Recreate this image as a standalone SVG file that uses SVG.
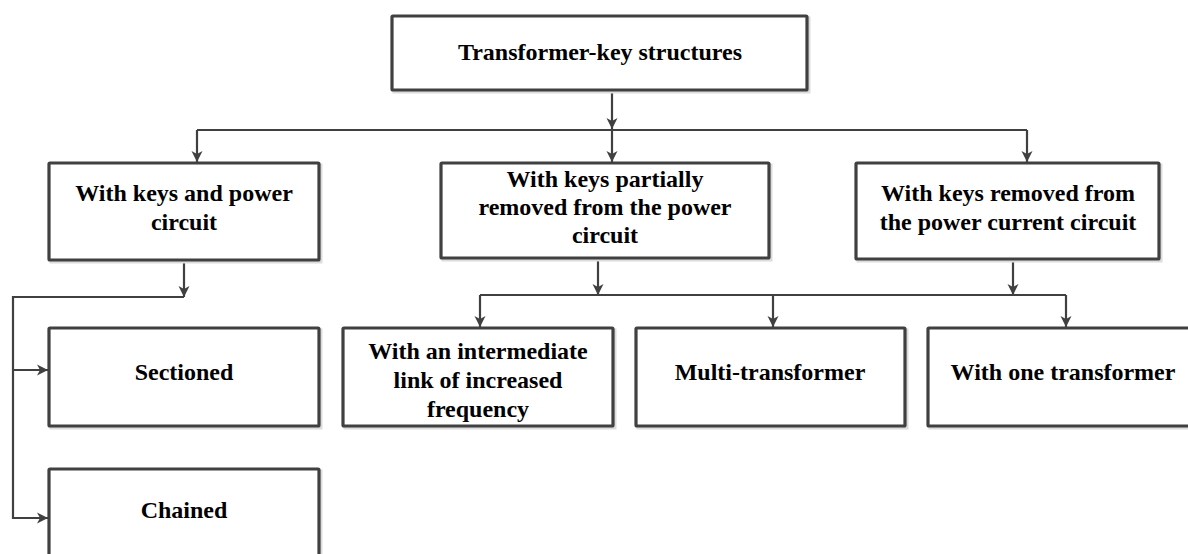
<svg xmlns="http://www.w3.org/2000/svg" width="1188" height="554" viewBox="0 0 1188 554">
<style>
.box{fill:#ffffff;stroke:#404040;stroke-width:3.2}
.sh{fill:none;stroke:#dcdcdc;stroke-width:3}
.t{font-family:"Liberation Serif","Times New Roman",serif;font-weight:bold;font-size:24px;fill:#000;text-anchor:middle}
.c{fill:none;stroke:#404040;stroke-width:2.2}
</style>
<defs>
<marker id="ah" markerUnits="userSpaceOnUse" markerWidth="12" markerHeight="12" viewBox="0 0 12 12" refX="11" refY="6" orient="auto">
<path d="M0,0.5 L11,6 L0,11.5 L3,6 z" fill="#404040"/>
</marker>
</defs>
<rect x="0" y="0" width="1188" height="554" fill="#ffffff"/>
<g id="connectors">
<path class="c" d="M612,91 V129" marker-end="url(#ah)"/>
<path class="c" d="M197,130 H1027"/>
<path class="c" d="M197,130 V162" marker-end="url(#ah)"/>
<path class="c" d="M612,130 V162" marker-end="url(#ah)"/>
<path class="c" d="M1027,130 V162" marker-end="url(#ah)"/>
<path class="c" d="M184,261 V297" marker-end="url(#ah)"/>
<path class="c" d="M184,297 H13 V518 H48" marker-end="url(#ah)"/>
<path class="c" d="M13,370 H48" marker-end="url(#ah)"/>
<path class="c" d="M598,259 V295" marker-end="url(#ah)"/>
<path class="c" d="M1013,260 V295" marker-end="url(#ah)"/>
<path class="c" d="M480,295 H1066"/>
<path class="c" d="M480,295 V327" marker-end="url(#ah)"/>
<path class="c" d="M773,295 V327" marker-end="url(#ah)"/>
<path class="c" d="M1066,295 V327" marker-end="url(#ah)"/>
</g>
<g id="n-root">
<rect class="sh" x="394" y="18" width="415" height="74"/>
<rect class="box" x="392" y="16" width="415" height="74" rx="1"/>
<text class="t" x="600" y="60">Transformer-key structures</text>
</g>
<g id="n-power">
<rect class="sh" x="51" y="165" width="270" height="97"/>
<rect class="box" x="49" y="163" width="270" height="97" rx="1"/>
<text class="t" x="184" y="201">With keys and power</text>
<text class="t" x="184" y="230">circuit</text>
</g>
<g id="n-partial">
<rect class="sh" x="443" y="165" width="328" height="95"/>
<rect class="box" x="441" y="163" width="328" height="95" rx="1"/>
<text class="t" x="605" y="187">With keys partially</text>
<text class="t" x="605" y="215">removed from the power</text>
<text class="t" x="605" y="243">circuit</text>
</g>
<g id="n-removed">
<rect class="sh" x="858" y="165" width="303" height="96"/>
<rect class="box" x="856" y="163" width="303" height="96" rx="1"/>
<text class="t" x="1008" y="201">With keys removed from</text>
<text class="t" x="1008" y="230">the power current circuit</text>
</g>
<g id="n-sectioned">
<rect class="sh" x="51" y="330" width="270" height="98"/>
<rect class="box" x="49" y="328" width="270" height="98" rx="1"/>
<text class="t" x="184" y="380">Sectioned</text>
</g>
<g id="n-chained">
<rect class="sh" x="51" y="471" width="270" height="100"/>
<rect class="box" x="49" y="469" width="270" height="100" rx="1"/>
<text class="t" x="184" y="518">Chained</text>
</g>
<g id="n-intermediate">
<rect class="sh" x="345" y="330" width="270" height="98"/>
<rect class="box" x="343" y="328" width="270" height="98" rx="1"/>
<text class="t" x="478" y="359">With an intermediate</text>
<text class="t" x="478" y="388">link of increased</text>
<text class="t" x="478" y="417">frequency</text>
</g>
<g id="n-multi">
<rect class="sh" x="638" y="330" width="269" height="98"/>
<rect class="box" x="636" y="328" width="269" height="98" rx="1"/>
<text class="t" x="770" y="380">Multi-transformer</text>
</g>
<g id="n-one">
<rect class="sh" x="930" y="330" width="270" height="98"/>
<rect class="box" x="928" y="328" width="270" height="98" rx="1"/>
<text class="t" x="1063" y="380">With one transformer</text>
</g>
</svg>
